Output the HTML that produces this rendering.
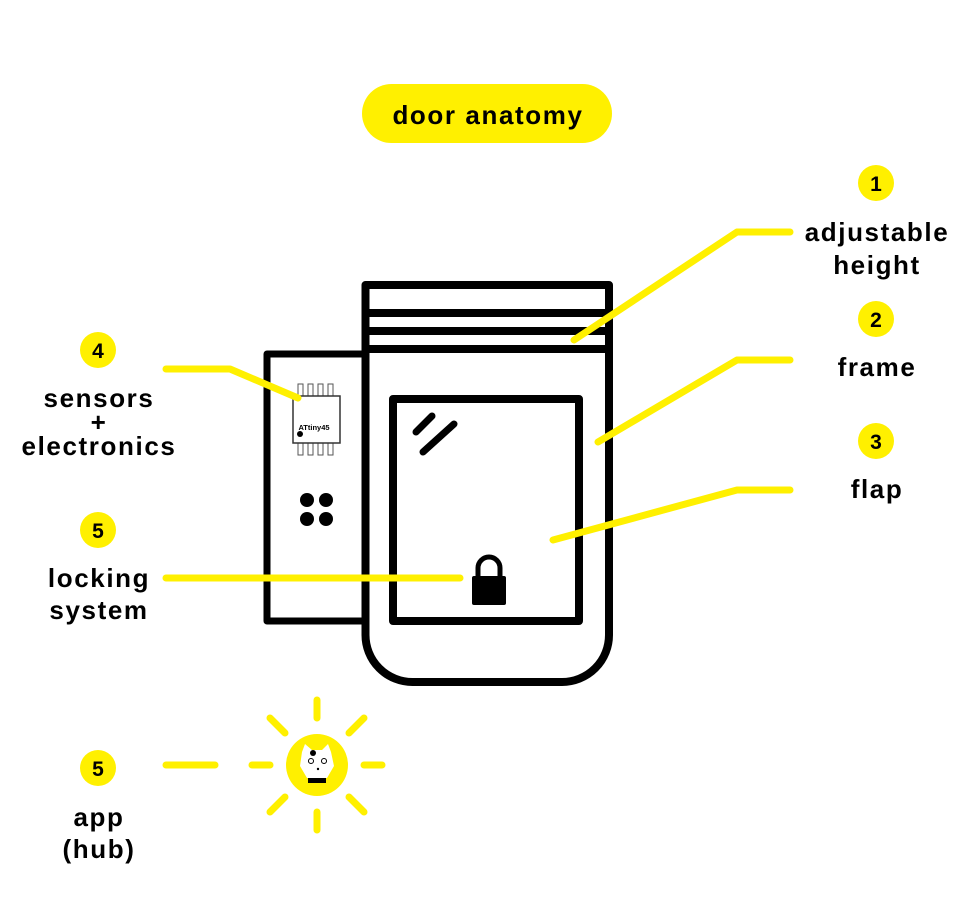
<!DOCTYPE html>
<html><head><meta charset="utf-8"><style>
html,body{margin:0;padding:0;background:#fff;}
svg{display:block;}
text{font-family:"Liberation Sans",sans-serif;font-weight:bold;fill:#000;text-anchor:middle;}
.l{letter-spacing:1.6px;}
</style></head><body>
<svg width="978" height="903" viewBox="0 0 978 903" xmlns="http://www.w3.org/2000/svg">
<rect x="362" y="84" width="250" height="59" rx="29.5" fill="#fff000"/>
<text x="488" y="124" font-size="26" style="letter-spacing:1.6px">door anatomy</text>

<rect x="267" y="354" width="98" height="267" fill="none" stroke="#000" stroke-width="7" stroke-linejoin="round"/>
<path d="M365.5 285 H609 V635 A47 47 0 0 1 562 682 H412.5 A47 47 0 0 1 365.5 635 Z" fill="#fff" stroke="#000" stroke-width="8" stroke-linejoin="round"/>
<line x1="365" y1="313" x2="609" y2="313" stroke="#000" stroke-width="8"/>
<line x1="365" y1="331" x2="609" y2="331" stroke="#000" stroke-width="8"/>
<line x1="365" y1="349" x2="609" y2="349" stroke="#000" stroke-width="8"/>
<rect x="393" y="399" width="186" height="222" fill="none" stroke="#000" stroke-width="8" stroke-linejoin="round"/>
<line x1="416" y1="432" x2="432" y2="416" stroke="#000" stroke-width="7" stroke-linecap="round"/>
<line x1="423" y1="452" x2="454" y2="424" stroke="#000" stroke-width="7" stroke-linecap="round"/>
<path d="M478 577 V568 A11 11 0 0 1 500 568 V577" fill="none" stroke="#000" stroke-width="5"/>
<rect x="472" y="576" width="34" height="29" rx="2" fill="#000"/>
<circle cx="307" cy="500" r="7" fill="#000"/><circle cx="326" cy="500" r="7" fill="#000"/>
<circle cx="307" cy="519" r="7" fill="#000"/><circle cx="326" cy="519" r="7" fill="#000"/>
<g stroke="#555" stroke-width="1" fill="#fff">
<rect x="298" y="384" width="5" height="12"/><rect x="308" y="384" width="5" height="12"/><rect x="318" y="384" width="5" height="12"/><rect x="328" y="384" width="5" height="12"/>
<rect x="298" y="443" width="5" height="12"/><rect x="308" y="443" width="5" height="12"/><rect x="318" y="443" width="5" height="12"/><rect x="328" y="443" width="5" height="12"/>
</g>
<rect x="293" y="396" width="47" height="47" fill="#fff" stroke="#333" stroke-width="1.5"/>
<text x="314" y="430" font-size="7.5">ATtiny45</text>
<circle cx="300" cy="434" r="3" fill="#000"/>

<g stroke="#fff000" stroke-width="7" fill="none" stroke-linecap="round" stroke-linejoin="round">
<polyline points="574,340 737,232 790,232"/>
<polyline points="598,442 737,360 790,360"/>
<polyline points="553,540 737,490 790,490"/>
<polyline points="166,369 230,369 298,398"/>
<polyline points="166,578 460,578"/>
<polyline points="166,765 215,765"/>
</g>

<g fill="#fff000">
<circle cx="876" cy="183" r="18"/><circle cx="876" cy="319" r="18"/><circle cx="876" cy="441" r="18"/>
<circle cx="98" cy="350" r="18"/><circle cx="98" cy="530" r="18"/><circle cx="98" cy="768" r="18"/>
</g>
<g font-size="21">
<text x="876" y="191">1</text><text x="876" y="327">2</text><text x="876" y="449">3</text>
<text x="98" y="358">4</text><text x="98" y="538">5</text><text x="98" y="776">5</text>
</g>
<g font-size="26" class="l">
<text x="877" y="241">adjustable</text><text x="877" y="274">height</text>
<text x="877" y="376">frame</text>
<text x="877" y="498">flap</text>
<text x="99" y="407">sensors</text><text x="99" y="431">+</text><text x="99" y="455">electronics</text>
<text x="99" y="587">locking</text><text x="99" y="619">system</text>
<text x="99" y="826">app</text><text x="99" y="858">(hub)</text>
</g>

<g stroke="#fff000" stroke-width="7" stroke-linecap="round">
<line x1="317" y1="700" x2="317" y2="718"/><line x1="317" y1="812" x2="317" y2="830"/>
<line x1="252" y1="765" x2="270" y2="765"/><line x1="364" y1="765" x2="382" y2="765"/>
<line x1="270" y1="718" x2="285" y2="733"/><line x1="349" y1="797" x2="364" y2="812"/>
<line x1="364" y1="718" x2="349" y2="733"/><line x1="285" y1="797" x2="270" y2="812"/>
</g>
<circle cx="317" cy="765" r="31" fill="#fff000"/>
<path d="M302 752 L305 744 L312 750 L322 750 L328 744 L331 752 L334 766 L327 778 L307 778 L300 766 Z" fill="#fff"/>
<circle cx="313" cy="753" r="3" fill="#000"/>
<circle cx="311" cy="761" r="2.5" fill="none" stroke="#000" stroke-width="1"/><circle cx="324" cy="761" r="2.5" fill="none" stroke="#000" stroke-width="1"/>
<circle cx="318" cy="769" r="1.2" fill="#000"/>
<rect x="308" y="778" width="18" height="5" fill="#000"/>
</svg>
</body></html>
